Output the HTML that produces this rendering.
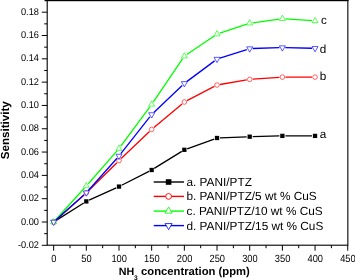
<!DOCTYPE html><html><head><meta charset="utf-8"><style>html,body{margin:0;padding:0;background:#fff;}svg{display:block;will-change:transform;}text{font-family:"Liberation Sans",sans-serif;text-rendering:geometricPrecision;}</style></head><body>
<svg width="355" height="280" viewBox="0 0 355 280">
<rect width="355" height="280" fill="#fff"/>
<rect x="47.2" y="0.4" width="300.65000000000003" height="244.79999999999998" fill="none" stroke="#000" stroke-width="1.1"/>
<rect x="44.5" y="0" width="304" height="1.2" fill="#000"/>
<path d="M53.65 245.2V250.7 M86.32 245.2V250.7 M119.00 245.2V250.7 M151.67 245.2V250.7 M184.35 245.2V250.7 M217.03 245.2V250.7 M249.70 245.2V250.7 M282.38 245.2V250.7 M315.05 245.2V250.7 M347.72 245.2V250.7 M69.99 245.2V248.2 M102.66 245.2V248.2 M135.34 245.2V248.2 M168.01 245.2V248.2 M200.69 245.2V248.2 M233.36 245.2V248.2 M266.04 245.2V248.2 M298.71 245.2V248.2 M331.39 245.2V248.2 M47.2 245.31H41.800000000000004 M47.2 222.00H41.800000000000004 M47.2 198.69H41.800000000000004 M47.2 175.38H41.800000000000004 M47.2 152.06H41.800000000000004 M47.2 128.75H41.800000000000004 M47.2 105.44H41.800000000000004 M47.2 82.13H41.800000000000004 M47.2 58.82H41.800000000000004 M47.2 35.50H41.800000000000004 M47.2 12.19H41.800000000000004 M47.2 233.66H44.2 M47.2 210.34H44.2 M47.2 187.03H44.2 M47.2 163.72H44.2 M47.2 140.41H44.2 M47.2 117.10H44.2 M47.2 93.78H44.2 M47.2 70.47H44.2 M47.2 47.16H44.2 M47.2 23.85H44.2" stroke="#000" stroke-width="1" fill="none"/>
<text transform="translate(53.85,261.9) scale(0.96,1.08)" font-size="9.7" text-anchor="middle" fill="#000">0</text>
<text transform="translate(86.52,261.9) scale(0.96,1.08)" font-size="9.7" text-anchor="middle" fill="#000">50</text>
<text transform="translate(119.20,261.9) scale(0.96,1.08)" font-size="9.7" text-anchor="middle" fill="#000">100</text>
<text transform="translate(151.87,261.9) scale(0.96,1.08)" font-size="9.7" text-anchor="middle" fill="#000">150</text>
<text transform="translate(184.55,261.9) scale(0.96,1.08)" font-size="9.7" text-anchor="middle" fill="#000">200</text>
<text transform="translate(217.22,261.9) scale(0.96,1.08)" font-size="9.7" text-anchor="middle" fill="#000">250</text>
<text transform="translate(249.90,261.9) scale(0.96,1.08)" font-size="9.7" text-anchor="middle" fill="#000">300</text>
<text transform="translate(282.57,261.9) scale(0.96,1.08)" font-size="9.7" text-anchor="middle" fill="#000">350</text>
<text transform="translate(315.25,261.9) scale(0.96,1.08)" font-size="9.7" text-anchor="middle" fill="#000">400</text>
<text transform="translate(347.92,261.9) scale(0.96,1.08)" font-size="9.7" text-anchor="middle" fill="#000">450</text>
<text transform="translate(38.9,247.91) scale(0.94,1)" font-size="9.8" text-anchor="end" fill="#000">-0.02</text>
<text transform="translate(38.9,224.60) scale(0.94,1)" font-size="9.8" text-anchor="end" fill="#000">0.00</text>
<text transform="translate(38.9,201.29) scale(0.94,1)" font-size="9.8" text-anchor="end" fill="#000">0.02</text>
<text transform="translate(38.9,177.98) scale(0.94,1)" font-size="9.8" text-anchor="end" fill="#000">0.04</text>
<text transform="translate(38.9,154.66) scale(0.94,1)" font-size="9.8" text-anchor="end" fill="#000">0.06</text>
<text transform="translate(38.9,131.35) scale(0.94,1)" font-size="9.8" text-anchor="end" fill="#000">0.08</text>
<text transform="translate(38.9,108.04) scale(0.94,1)" font-size="9.8" text-anchor="end" fill="#000">0.10</text>
<text transform="translate(38.9,84.73) scale(0.94,1)" font-size="9.8" text-anchor="end" fill="#000">0.12</text>
<text transform="translate(38.9,61.42) scale(0.94,1)" font-size="9.8" text-anchor="end" fill="#000">0.14</text>
<text transform="translate(38.9,38.10) scale(0.94,1)" font-size="9.8" text-anchor="end" fill="#000">0.16</text>
<text transform="translate(38.9,14.79) scale(0.94,1)" font-size="9.8" text-anchor="end" fill="#000">0.18</text>
<text x="118.8" y="274.6" font-size="10.7" font-weight="bold" fill="#000">NH</text>
<text x="134.1" y="280.3" font-size="6.7" font-weight="bold" fill="#000">3</text>
<text x="141.1" y="274.6" font-size="11.25" font-weight="bold" fill="#000">concentration (ppm)</text>
<text transform="translate(9.3,159.3) rotate(-90)" font-size="11.6" font-weight="bold" fill="#000">Sensitivity</text>
<path d="M56.19 220.40L83.79 203.00M89.06 200.16L116.27 187.84M121.67 185.24L149.00 171.36M154.23 168.42L181.80 151.38M187.17 148.78L214.20 139.02M220.02 137.88L246.70 136.82M252.70 136.63L279.38 135.97M285.38 135.90L312.05 135.90" fill="none" stroke="#000" stroke-width="1.3"/>
<rect x="51.50" y="219.85" width="4.3" height="4.3" fill="#000"/>
<rect x="84.17" y="199.25" width="4.3" height="4.3" fill="#000"/>
<rect x="116.85" y="184.45" width="4.3" height="4.3" fill="#000"/>
<rect x="149.52" y="167.85" width="4.3" height="4.3" fill="#000"/>
<rect x="182.20" y="147.65" width="4.3" height="4.3" fill="#000"/>
<rect x="214.88" y="135.85" width="4.3" height="4.3" fill="#000"/>
<rect x="247.55" y="134.55" width="4.3" height="4.3" fill="#000"/>
<rect x="280.23" y="133.75" width="4.3" height="4.3" fill="#000"/>
<rect x="312.90" y="133.75" width="4.3" height="4.3" fill="#000"/>
<path d="M55.89 220.00L84.08 194.90M88.46 190.79L116.87 162.71M121.17 158.53L149.51 131.47M153.97 127.47L182.05 103.93M187.01 100.62L214.36 86.38M219.98 84.49L246.74 79.91M252.69 79.19L279.38 77.31M285.38 77.10L312.05 77.10" fill="none" stroke="#f00" stroke-width="1.3"/>
<circle cx="53.65" cy="222.00" r="2.3" fill="#fff" stroke="#f00" stroke-width="0.6"/>
<circle cx="86.32" cy="192.90" r="2.3" fill="#fff" stroke="#f00" stroke-width="0.6"/>
<circle cx="119.00" cy="160.60" r="2.3" fill="#fff" stroke="#f00" stroke-width="0.6"/>
<circle cx="151.67" cy="129.40" r="2.3" fill="#fff" stroke="#f00" stroke-width="0.6"/>
<circle cx="184.35" cy="102.00" r="2.3" fill="#fff" stroke="#f00" stroke-width="0.6"/>
<circle cx="217.03" cy="85.00" r="2.3" fill="#fff" stroke="#f00" stroke-width="0.6"/>
<circle cx="249.70" cy="79.40" r="2.3" fill="#fff" stroke="#f00" stroke-width="0.6"/>
<circle cx="282.38" cy="77.10" r="2.3" fill="#fff" stroke="#f00" stroke-width="0.6"/>
<circle cx="315.05" cy="77.10" r="2.3" fill="#fff" stroke="#f00" stroke-width="0.6"/>
<path d="M55.67 219.78L84.31 188.22M88.30 183.74L117.03 150.86M120.78 146.19L149.89 106.81M153.36 101.92L182.67 58.68M186.83 54.52L214.54 35.78M219.87 33.15L246.85 24.15M252.67 22.79L279.40 19.11M285.37 18.90L312.06 20.70" fill="none" stroke="#0f0" stroke-width="1.3"/>
<polygon points="53.65,218.48 50.65,223.76 56.65,223.76" fill="#fff" stroke="#0f0" stroke-width="0.65"/>
<polygon points="86.32,182.48 83.32,187.76 89.32,187.76" fill="#fff" stroke="#0f0" stroke-width="0.65"/>
<polygon points="119.00,145.08 116.00,150.36 122.00,150.36" fill="#fff" stroke="#0f0" stroke-width="0.65"/>
<polygon points="151.67,100.88 148.67,106.16 154.67,106.16" fill="#fff" stroke="#0f0" stroke-width="0.65"/>
<polygon points="184.35,52.68 181.35,57.96 187.35,57.96" fill="#fff" stroke="#0f0" stroke-width="0.65"/>
<polygon points="217.03,30.58 214.03,35.86 220.03,35.86" fill="#fff" stroke="#0f0" stroke-width="0.65"/>
<polygon points="249.70,19.68 246.70,24.96 252.70,24.96" fill="#fff" stroke="#0f0" stroke-width="0.65"/>
<polygon points="282.38,15.18 279.38,20.46 285.38,20.46" fill="#fff" stroke="#0f0" stroke-width="0.65"/>
<polygon points="315.05,17.38 312.05,22.66 318.05,22.66" fill="#fff" stroke="#0f0" stroke-width="0.65"/>
<path d="M55.88 220.00L84.09 194.70M88.32 190.46L117.01 158.24M120.86 153.64L149.82 116.86M153.85 112.43L182.18 85.47M186.76 81.61L214.62 60.89M219.88 58.18L246.84 49.52M252.70 48.51L279.38 47.69M285.37 47.66L312.05 48.24" fill="none" stroke="#00f" stroke-width="1.3"/>
<polygon points="53.65,225.52 50.65,220.24 56.65,220.24" fill="#fff" stroke="#00f" stroke-width="0.65"/>
<polygon points="86.32,196.22 83.32,190.94 89.32,190.94" fill="#fff" stroke="#00f" stroke-width="0.65"/>
<polygon points="119.00,159.52 116.00,154.24 122.00,154.24" fill="#fff" stroke="#00f" stroke-width="0.65"/>
<polygon points="151.67,118.02 148.67,112.74 154.67,112.74" fill="#fff" stroke="#00f" stroke-width="0.65"/>
<polygon points="184.35,86.92 181.35,81.64 187.35,81.64" fill="#fff" stroke="#00f" stroke-width="0.65"/>
<polygon points="217.03,62.62 214.03,57.34 220.03,57.34" fill="#fff" stroke="#00f" stroke-width="0.65"/>
<polygon points="249.70,52.12 246.70,46.84 252.70,46.84" fill="#fff" stroke="#00f" stroke-width="0.65"/>
<polygon points="282.38,51.12 279.38,45.84 285.38,45.84" fill="#fff" stroke="#00f" stroke-width="0.65"/>
<polygon points="315.05,51.82 312.05,46.54 318.05,46.54" fill="#fff" stroke="#00f" stroke-width="0.65"/>
<text x="319.7" y="137.8" font-size="11.7" fill="#000">a</text>
<text x="319.7" y="79.5" font-size="11.7" fill="#000">b</text>
<text x="320.9" y="23.7" font-size="11.7" fill="#000">c</text>
<text x="319.7" y="52.5" font-size="11.7" fill="#000">d</text>
<path d="M153.7 182.0H184.0" stroke="#000" stroke-width="1.4"/>
<rect x="165.80" y="179.20" width="5.6" height="5.6" fill="#000"/>
<text x="186.5" y="186.00" font-size="11.8" fill="#000">a. PANI/PTZ</text>
<path d="M153.7 196.4H184.0" stroke="#f00" stroke-width="1.4"/>
<circle cx="168.60" cy="196.40" r="2.9" fill="#fff" stroke="#f00" stroke-width="0.9"/>
<text x="186.5" y="200.40" font-size="11.8" fill="#000">b. PANI/PTZ/5 wt % CuS</text>
<path d="M153.7 211.1H184.0" stroke="#0f0" stroke-width="1.4"/>
<polygon points="168.60,206.99 165.10,213.15 172.10,213.15" fill="#fff" stroke="#0f0" stroke-width="0.8"/>
<text x="186.5" y="215.10" font-size="11.8" fill="#000">c. PANI/PTZ/10 wt % CuS</text>
<path d="M153.7 225.6H184.0" stroke="#00f" stroke-width="1.4"/>
<polygon points="168.60,229.71 165.10,223.55 172.10,223.55" fill="#fff" stroke="#00f" stroke-width="0.8"/>
<text x="186.5" y="229.60" font-size="11.8" fill="#000">d. PANI/PTZ/15 wt % CuS</text>
</svg></body></html>
